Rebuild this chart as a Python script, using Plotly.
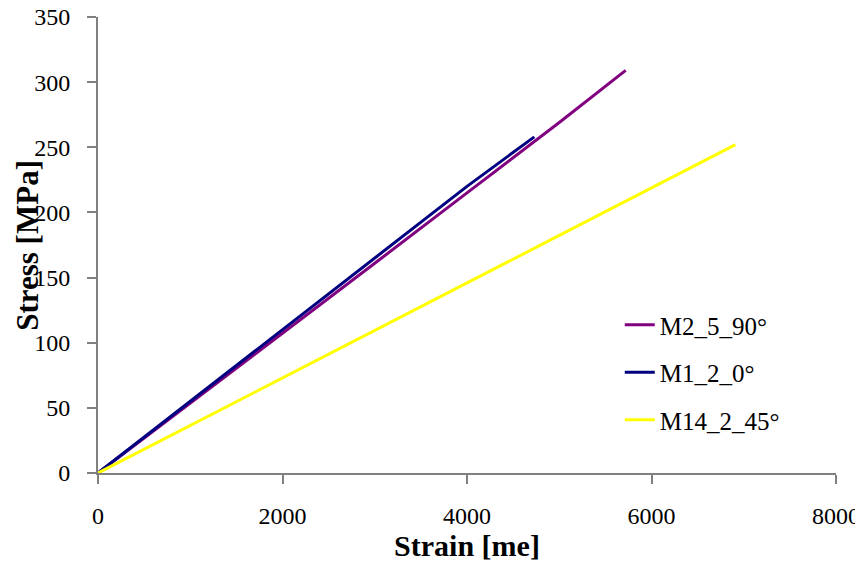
import plotly.graph_objects as go

# Data
strain_m2 = [0, 1000, 2000, 3000, 4000, 5000, 5720]
stress_m2 = [0, 53.5, 107, 161, 215, 269, 309]

strain_m1 = [0, 1000, 2000, 3000, 4000, 4730]
stress_m1 = [0, 55, 110, 165, 220, 258]

strain_m14 = [0, 1000, 2000, 3000, 4000, 5000, 6000, 6910]
stress_m14 = [0, 36.5, 73, 109.5, 146, 182.5, 219, 252]

names = ["M2_5_90°", "M1_2_0°", "M14_2_45°"]
colors = ["#800080", "#000080", "#FFFF00"]

x_ticks = [0, 2000, 4000, 6000, 8000]
y_ticks = [0, 50, 100, 150, 200, 250, 300, 350]

fig = go.Figure()
series = [(strain_m2, stress_m2), (strain_m1, stress_m1), (strain_m14, stress_m14)]
for i, ((xs, ys), name, col) in enumerate(zip(series, names, colors)):
    fig.add_trace(go.Scatter(x=xs, y=ys, mode="lines", name=name,
                             legendgroup=f"g{i}",
                             line=dict(color=col, width=3)))

font_family = "Liberation Serif"
# page body has an 8px margin, so the figure is slightly smaller than the window
fig.update_layout(
    width=855, height=558,
    margin=dict(l=90, r=27, t=9, b=93, autoexpand=False),
    plot_bgcolor="white", paper_bgcolor="white",
    font=dict(family=font_family, size=24, color="black"),
    showlegend=True,
    legend=dict(x=0.707, y=0.375, xanchor="left", yanchor="top",
                font=dict(family=font_family, size=25),
                tracegroupgap=12, bgcolor="rgba(0,0,0,0)",
                itemwidth=30),
    annotations=[dict(text="<b>Stress [MPa]</b>", textangle=-90,
                      xref="paper", yref="paper", x=-0.0965, y=0.5,
                      xanchor="center", yanchor="middle", showarrow=False,
                      font=dict(family=font_family, size=31, color="black"))],
)
fig.update_xaxes(
    range=[0, 8000], tickvals=x_ticks, ticktext=[str(v) for v in x_ticks],
    showgrid=False, zeroline=False, showline=True, linecolor="#808080", linewidth=2,
    ticks="outside", ticklen=9, tickwidth=2, tickcolor="#808080",
    ticklabelstandoff=11, automargin=False, ticklabeloverflow="allow",
    tickfont=dict(family=font_family, size=24),
    title=dict(text="<b>Strain [me]</b>", font=dict(family=font_family, size=30), standoff=3),
)
fig.update_yaxes(
    range=[0, 350], tickvals=y_ticks, ticktext=[str(v) for v in y_ticks],
    showgrid=False, zeroline=False, showline=True, linecolor="#808080", linewidth=2,
    ticks="outside", ticklen=9, tickwidth=2, tickcolor="#808080",
    ticklabelstandoff=12, automargin=False, ticklabeloverflow="allow",
    tickfont=dict(family=font_family, size=24),
)
fig.write_html("out.html")
